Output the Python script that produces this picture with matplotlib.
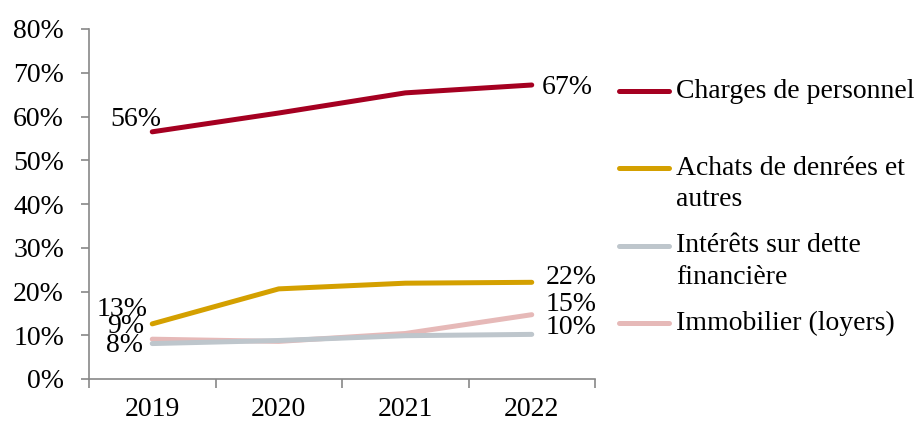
import matplotlib
matplotlib.use("Agg")
import matplotlib.pyplot as plt
from matplotlib.lines import Line2D

years = ["2019", "2020", "2021", "2022"]
charges = [56.5, 60.8, 65.4, 67.2]
achats = [12.6, 20.6, 21.9, 22.1]
interets = [8.1, 8.8, 9.9, 10.2]
immobilier = [9.1, 8.6, 10.4, 14.7]

series = [
    ("Charges de personnel", charges, "#A50021"),
    ("Achats de denrées et\nautres", achats, "#D4A000"),
    ("Intérêts sur dette\nfinancière", interets, "#BEC6CC"),
    ("Immobilier (loyers)", immobilier, "#E6B9B8"),
]

plt.rcParams['font.family'] = ['Liberation Serif', 'DejaVu Serif']
FS = 20

fig = plt.figure(figsize=(9.24, 4.22), dpi=100)
ax = fig.add_axes([89/924, 1-379/422, (595-89)/924, (379-29)/422])

x = list(range(len(years)))
for name, vals, col in series[::-1]:
    ax.plot(x, vals, color=col, lw=3.6, solid_capstyle='round')

ax.set_xlim(-0.5, 3.5)
ax.set_ylim(0, 80)
ax.set_yticks(range(0, 81, 10))
ax.set_yticklabels([f"{v}%" for v in range(0, 81, 10)], fontsize=FS)
ax.set_xticks(x)
ax.set_xticklabels(years, fontsize=FS)
ax.set_xticks([-0.5, 0.5, 1.5, 2.5, 3.5], minor=True)
ax.tick_params(axis='x', which='major', length=0, pad=13)
ax.tick_params(axis='x', which='minor', length=6.5, color='#888888', width=1.2)
ax.tick_params(axis='y', length=6, color='#888888', width=1.2, pad=12)
for s in ['top', 'right']:
    ax.spines[s].set_visible(False)
for s in ['left', 'bottom']:
    ax.spines[s].set_color('#888888')
    ax.spines[s].set_linewidth(1.2)

PX = 0.72  # points per pixel at 100 dpi

def lab(xi, v, dx, dy):
    ax.annotate(f"{round(v):.0f}%", (xi, v), xytext=(dx*PX, dy*PX), textcoords='offset points',
                ha='center', va='center', fontsize=FS)

lab(0, charges[0], -16, 12)
lab(3, charges[3], 35, -3)
lab(0, achats[0], -30, 14)
lab(0, immobilier[0], -27, 13)
lab(0, interets[0], -28, -2)
lab(3, achats[3], 39, 5)
lab(3, immobilier[3], 39, 10)
lab(3, interets[3], 39, 7)

# legend (manual)
leg_line_y = [91, 168, 246, 323]
leg_text_y = [91, 184, 261.5, 323]
for (name, vals, col), ly, ty in zip(series, leg_line_y, leg_text_y):
    yf = 1 - ly/422
    fig.add_artist(Line2D([619/924, 669/924], [yf, yf], color=col, lw=3.6,
                          solid_capstyle='round', transform=fig.transFigure))
    fig.text(676/924, 1 - ty/422, name, fontsize=FS, va='center',
             ha='left', linespacing=1.35)

fig.savefig("out.png", dpi=100)
